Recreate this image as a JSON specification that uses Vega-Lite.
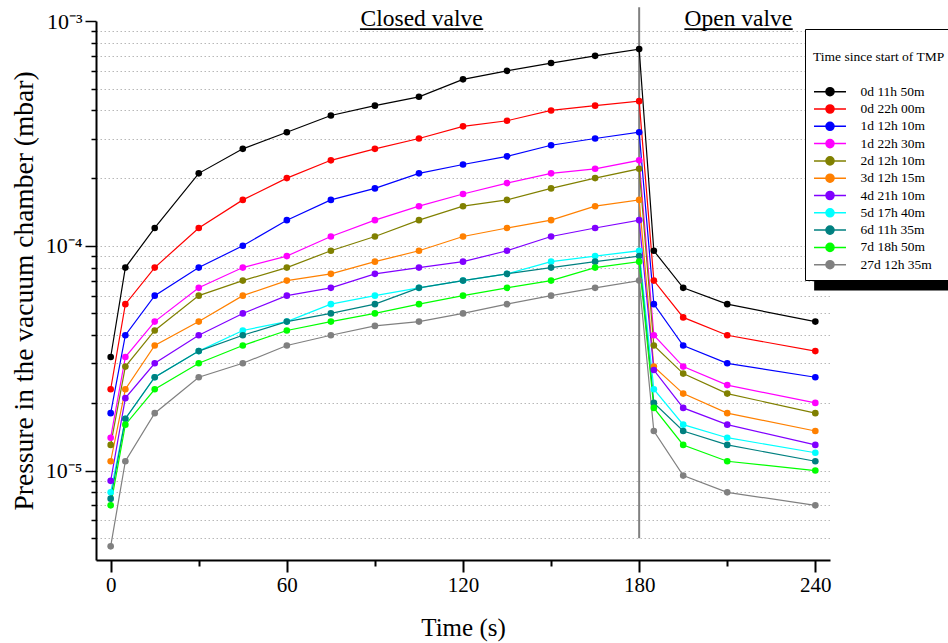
{
  "$schema": "https://vega.github.io/schema/vega-lite/v6.json",
  "width": 734,
  "height": 539,
  "autosize": {"type": "none"},
  "padding": {"left": 96, "top": 21, "right": 118, "bottom": 83},
  "background": "white",
  "config": {
    "view": {"stroke": null},
    "font": "Liberation Serif",
    "axis": {"labelFont": "Liberation Serif", "titleFont": "Liberation Serif", "labelColor": "black", "titleColor": "black", "titleFontWeight": "normal", "domainColor": "black", "tickColor": "black"}
  },
  "datasets": {
    "pressure": [
      {"series":"0d 11h 50m","t":0,"p":3.2e-5},{"series":"0d 11h 50m","t":5,"p":8.0e-5},{"series":"0d 11h 50m","t":15,"p":1.2e-4},{"series":"0d 11h 50m","t":30,"p":2.1e-4},{"series":"0d 11h 50m","t":45,"p":2.7e-4},{"series":"0d 11h 50m","t":60,"p":3.2e-4},{"series":"0d 11h 50m","t":75,"p":3.8e-4},{"series":"0d 11h 50m","t":90,"p":4.2e-4},{"series":"0d 11h 50m","t":105,"p":4.6e-4},{"series":"0d 11h 50m","t":120,"p":5.5e-4},{"series":"0d 11h 50m","t":135,"p":6.0e-4},{"series":"0d 11h 50m","t":150,"p":6.5e-4},{"series":"0d 11h 50m","t":165,"p":7.0e-4},{"series":"0d 11h 50m","t":180,"p":7.5e-4},{"series":"0d 11h 50m","t":185,"p":9.5e-5},{"series":"0d 11h 50m","t":195,"p":6.5e-5},{"series":"0d 11h 50m","t":210,"p":5.5e-5},{"series":"0d 11h 50m","t":240,"p":4.6e-5},
      {"series":"0d 22h 00m","t":0,"p":2.3e-5},{"series":"0d 22h 00m","t":5,"p":5.5e-5},{"series":"0d 22h 00m","t":15,"p":8.0e-5},{"series":"0d 22h 00m","t":30,"p":1.2e-4},{"series":"0d 22h 00m","t":45,"p":1.6e-4},{"series":"0d 22h 00m","t":60,"p":2.0e-4},{"series":"0d 22h 00m","t":75,"p":2.4e-4},{"series":"0d 22h 00m","t":90,"p":2.7e-4},{"series":"0d 22h 00m","t":105,"p":3.0e-4},{"series":"0d 22h 00m","t":120,"p":3.4e-4},{"series":"0d 22h 00m","t":135,"p":3.6e-4},{"series":"0d 22h 00m","t":150,"p":4.0e-4},{"series":"0d 22h 00m","t":165,"p":4.2e-4},{"series":"0d 22h 00m","t":180,"p":4.4e-4},{"series":"0d 22h 00m","t":185,"p":7.0e-5},{"series":"0d 22h 00m","t":195,"p":4.8e-5},{"series":"0d 22h 00m","t":210,"p":4.0e-5},{"series":"0d 22h 00m","t":240,"p":3.4e-5},
      {"series":"1d 12h 10m","t":0,"p":1.8e-5},{"series":"1d 12h 10m","t":5,"p":4.0e-5},{"series":"1d 12h 10m","t":15,"p":6.0e-5},{"series":"1d 12h 10m","t":30,"p":8.0e-5},{"series":"1d 12h 10m","t":45,"p":1.0e-4},{"series":"1d 12h 10m","t":60,"p":1.3e-4},{"series":"1d 12h 10m","t":75,"p":1.6e-4},{"series":"1d 12h 10m","t":90,"p":1.8e-4},{"series":"1d 12h 10m","t":105,"p":2.1e-4},{"series":"1d 12h 10m","t":120,"p":2.3e-4},{"series":"1d 12h 10m","t":135,"p":2.5e-4},{"series":"1d 12h 10m","t":150,"p":2.8e-4},{"series":"1d 12h 10m","t":165,"p":3.0e-4},{"series":"1d 12h 10m","t":180,"p":3.2e-4},{"series":"1d 12h 10m","t":185,"p":5.5e-5},{"series":"1d 12h 10m","t":195,"p":3.6e-5},{"series":"1d 12h 10m","t":210,"p":3.0e-5},{"series":"1d 12h 10m","t":240,"p":2.6e-5},
      {"series":"1d 22h 30m","t":0,"p":1.4e-5},{"series":"1d 22h 30m","t":5,"p":3.2e-5},{"series":"1d 22h 30m","t":15,"p":4.6e-5},{"series":"1d 22h 30m","t":30,"p":6.5e-5},{"series":"1d 22h 30m","t":45,"p":8.0e-5},{"series":"1d 22h 30m","t":60,"p":9.0e-5},{"series":"1d 22h 30m","t":75,"p":1.1e-4},{"series":"1d 22h 30m","t":90,"p":1.3e-4},{"series":"1d 22h 30m","t":105,"p":1.5e-4},{"series":"1d 22h 30m","t":120,"p":1.7e-4},{"series":"1d 22h 30m","t":135,"p":1.9e-4},{"series":"1d 22h 30m","t":150,"p":2.1e-4},{"series":"1d 22h 30m","t":165,"p":2.2e-4},{"series":"1d 22h 30m","t":180,"p":2.4e-4},{"series":"1d 22h 30m","t":185,"p":4.0e-5},{"series":"1d 22h 30m","t":195,"p":2.9e-5},{"series":"1d 22h 30m","t":210,"p":2.4e-5},{"series":"1d 22h 30m","t":240,"p":2.0e-5},
      {"series":"2d 12h 10m","t":0,"p":1.3e-5},{"series":"2d 12h 10m","t":5,"p":2.9e-5},{"series":"2d 12h 10m","t":15,"p":4.2e-5},{"series":"2d 12h 10m","t":30,"p":6.0e-5},{"series":"2d 12h 10m","t":45,"p":7.0e-5},{"series":"2d 12h 10m","t":60,"p":8.0e-5},{"series":"2d 12h 10m","t":75,"p":9.5e-5},{"series":"2d 12h 10m","t":90,"p":1.1e-4},{"series":"2d 12h 10m","t":105,"p":1.3e-4},{"series":"2d 12h 10m","t":120,"p":1.5e-4},{"series":"2d 12h 10m","t":135,"p":1.6e-4},{"series":"2d 12h 10m","t":150,"p":1.8e-4},{"series":"2d 12h 10m","t":165,"p":2.0e-4},{"series":"2d 12h 10m","t":180,"p":2.2e-4},{"series":"2d 12h 10m","t":185,"p":3.6e-5},{"series":"2d 12h 10m","t":195,"p":2.7e-5},{"series":"2d 12h 10m","t":210,"p":2.2e-5},{"series":"2d 12h 10m","t":240,"p":1.8e-5},
      {"series":"3d 12h 15m","t":0,"p":1.1e-5},{"series":"3d 12h 15m","t":5,"p":2.3e-5},{"series":"3d 12h 15m","t":15,"p":3.6e-5},{"series":"3d 12h 15m","t":30,"p":4.6e-5},{"series":"3d 12h 15m","t":45,"p":6.0e-5},{"series":"3d 12h 15m","t":60,"p":7.0e-5},{"series":"3d 12h 15m","t":75,"p":7.5e-5},{"series":"3d 12h 15m","t":90,"p":8.5e-5},{"series":"3d 12h 15m","t":105,"p":9.5e-5},{"series":"3d 12h 15m","t":120,"p":1.1e-4},{"series":"3d 12h 15m","t":135,"p":1.2e-4},{"series":"3d 12h 15m","t":150,"p":1.3e-4},{"series":"3d 12h 15m","t":165,"p":1.5e-4},{"series":"3d 12h 15m","t":180,"p":1.6e-4},{"series":"3d 12h 15m","t":185,"p":2.9e-5},{"series":"3d 12h 15m","t":195,"p":2.2e-5},{"series":"3d 12h 15m","t":210,"p":1.8e-5},{"series":"3d 12h 15m","t":240,"p":1.5e-5},
      {"series":"4d 21h 10m","t":0,"p":9.0e-6},{"series":"4d 21h 10m","t":5,"p":2.1e-5},{"series":"4d 21h 10m","t":15,"p":3.0e-5},{"series":"4d 21h 10m","t":30,"p":4.0e-5},{"series":"4d 21h 10m","t":45,"p":5.0e-5},{"series":"4d 21h 10m","t":60,"p":6.0e-5},{"series":"4d 21h 10m","t":75,"p":6.5e-5},{"series":"4d 21h 10m","t":90,"p":7.5e-5},{"series":"4d 21h 10m","t":105,"p":8.0e-5},{"series":"4d 21h 10m","t":120,"p":8.5e-5},{"series":"4d 21h 10m","t":135,"p":9.5e-5},{"series":"4d 21h 10m","t":150,"p":1.1e-4},{"series":"4d 21h 10m","t":165,"p":1.2e-4},{"series":"4d 21h 10m","t":180,"p":1.3e-4},{"series":"4d 21h 10m","t":185,"p":2.8e-5},{"series":"4d 21h 10m","t":195,"p":1.9e-5},{"series":"4d 21h 10m","t":210,"p":1.6e-5},{"series":"4d 21h 10m","t":240,"p":1.3e-5},
      {"series":"5d 17h 40m","t":0,"p":8.0e-6},{"series":"5d 17h 40m","t":5,"p":1.7e-5},{"series":"5d 17h 40m","t":15,"p":2.6e-5},{"series":"5d 17h 40m","t":30,"p":3.4e-5},{"series":"5d 17h 40m","t":45,"p":4.2e-5},{"series":"5d 17h 40m","t":60,"p":4.6e-5},{"series":"5d 17h 40m","t":75,"p":5.5e-5},{"series":"5d 17h 40m","t":90,"p":6.0e-5},{"series":"5d 17h 40m","t":105,"p":6.5e-5},{"series":"5d 17h 40m","t":120,"p":7.0e-5},{"series":"5d 17h 40m","t":135,"p":7.5e-5},{"series":"5d 17h 40m","t":150,"p":8.5e-5},{"series":"5d 17h 40m","t":165,"p":9.0e-5},{"series":"5d 17h 40m","t":180,"p":9.5e-5},{"series":"5d 17h 40m","t":185,"p":2.3e-5},{"series":"5d 17h 40m","t":195,"p":1.6e-5},{"series":"5d 17h 40m","t":210,"p":1.4e-5},{"series":"5d 17h 40m","t":240,"p":1.2e-5},
      {"series":"6d 11h 35m","t":0,"p":7.5e-6},{"series":"6d 11h 35m","t":5,"p":1.7e-5},{"series":"6d 11h 35m","t":15,"p":2.6e-5},{"series":"6d 11h 35m","t":30,"p":3.4e-5},{"series":"6d 11h 35m","t":45,"p":4.0e-5},{"series":"6d 11h 35m","t":60,"p":4.6e-5},{"series":"6d 11h 35m","t":75,"p":5.0e-5},{"series":"6d 11h 35m","t":90,"p":5.5e-5},{"series":"6d 11h 35m","t":105,"p":6.5e-5},{"series":"6d 11h 35m","t":120,"p":7.0e-5},{"series":"6d 11h 35m","t":135,"p":7.5e-5},{"series":"6d 11h 35m","t":150,"p":8.0e-5},{"series":"6d 11h 35m","t":165,"p":8.5e-5},{"series":"6d 11h 35m","t":180,"p":9.0e-5},{"series":"6d 11h 35m","t":185,"p":2.0e-5},{"series":"6d 11h 35m","t":195,"p":1.5e-5},{"series":"6d 11h 35m","t":210,"p":1.3e-5},{"series":"6d 11h 35m","t":240,"p":1.1e-5},
      {"series":"7d 18h 50m","t":0,"p":7.0e-6},{"series":"7d 18h 50m","t":5,"p":1.6e-5},{"series":"7d 18h 50m","t":15,"p":2.3e-5},{"series":"7d 18h 50m","t":30,"p":3.0e-5},{"series":"7d 18h 50m","t":45,"p":3.6e-5},{"series":"7d 18h 50m","t":60,"p":4.2e-5},{"series":"7d 18h 50m","t":75,"p":4.6e-5},{"series":"7d 18h 50m","t":90,"p":5.0e-5},{"series":"7d 18h 50m","t":105,"p":5.5e-5},{"series":"7d 18h 50m","t":120,"p":6.0e-5},{"series":"7d 18h 50m","t":135,"p":6.5e-5},{"series":"7d 18h 50m","t":150,"p":7.0e-5},{"series":"7d 18h 50m","t":165,"p":8.0e-5},{"series":"7d 18h 50m","t":180,"p":8.5e-5},{"series":"7d 18h 50m","t":185,"p":1.9e-5},{"series":"7d 18h 50m","t":195,"p":1.3e-5},{"series":"7d 18h 50m","t":210,"p":1.1e-5},{"series":"7d 18h 50m","t":240,"p":1.0e-5},
      {"series":"27d 12h 35m","t":0,"p":4.6e-6},{"series":"27d 12h 35m","t":5,"p":1.1e-5},{"series":"27d 12h 35m","t":15,"p":1.8e-5},{"series":"27d 12h 35m","t":30,"p":2.6e-5},{"series":"27d 12h 35m","t":45,"p":3.0e-5},{"series":"27d 12h 35m","t":60,"p":3.6e-5},{"series":"27d 12h 35m","t":75,"p":4.0e-5},{"series":"27d 12h 35m","t":90,"p":4.4e-5},{"series":"27d 12h 35m","t":105,"p":4.6e-5},{"series":"27d 12h 35m","t":120,"p":5.0e-5},{"series":"27d 12h 35m","t":135,"p":5.5e-5},{"series":"27d 12h 35m","t":150,"p":6.0e-5},{"series":"27d 12h 35m","t":165,"p":6.5e-5},{"series":"27d 12h 35m","t":180,"p":7.0e-5},{"series":"27d 12h 35m","t":185,"p":1.5e-5},{"series":"27d 12h 35m","t":195,"p":9.5e-6},{"series":"27d 12h 35m","t":210,"p":8.0e-6},{"series":"27d 12h 35m","t":240,"p":7.0e-6}
    ],
    "notes": [
      {"label": "Closed valve", "t": 105.9, "p": 9.52e-4},
      {"label": "Open valve", "t": 213.8, "p": 9.52e-4}
    ],
    "underlines": [
      {"t1": 84.9, "t2": 126.9, "p": 9.21e-4},
      {"t1": 195.4, "t2": 232.3, "p": 9.21e-4}
    ],
    "valve": [{"t": 180, "p1": 5e-6, "p2": 1.15e-3}],
    "shadow": [{"t1": 239.6, "t2": 300, "p1": 6.32e-5, "p2": 7.4e-5}]
  },
  "layer": [
    {
      "data": {"name": "shadow"},
      "mark": {"type": "rect", "color": "black"},
      "encoding": {
        "x": {
          "field": "t1", "type": "quantitative",
          "scale": {"domain": [-5, 245], "nice": false, "zero": false},
          "axis": {
            "title": "Time (s)", "titleFontSize": 25, "titlePadding": 20,
            "values": [0, 30, 60, 90, 120, 150, 180, 210, 240],
            "labelExpr": "datum.value % 60 === 0 ? datum.label : ''",
            "labelFontSize": 21, "labelPadding": 2, "labelFlush": false,
            "tickSize": {"condition": {"test": "datum.value % 60 === 0", "value": 12}, "value": 6},
            "tickWidth": 2, "domainWidth": 2, "grid": false
          }
        },
        "x2": {"field": "t2"},
        "y": {
          "field": "p1", "type": "quantitative",
          "scale": {"type": "log", "domain": [4e-6, 1e-3], "nice": false},
          "axis": {
            "title": "Pressure in the vacuum chamber (mbar)", "titleFontSize": 27.5, "titlePadding": 7,
            "values": [5e-6, 6e-6, 7e-6, 8e-6, 9e-6, 1e-5, 2e-5, 3e-5, 4e-5, 5e-5, 6e-5, 7e-5, 8e-5, 9e-5, 1e-4, 2e-4, 3e-4, 4e-4, 5e-4, 6e-4, 7e-4, 8e-4, 9e-4, 1e-3],
            "labelExpr": "abs(log(datum.value)/LN10 - round(log(datum.value)/LN10)) < 1e-6 ? '10⁻' + ['⁰','¹','²','³','⁴','⁵','⁶'][-round(log(datum.value)/LN10)] : ''",
            "labelFontSize": 22, "labelPadding": 3,
            "tickSize": {"condition": {"test": "abs(log(datum.value)/LN10 - round(log(datum.value)/LN10)) < 1e-6", "value": 11}, "value": 5},
            "tickWidth": 1.5, "domainWidth": 2,
            "grid": true, "gridDash": [1.5, 2.5], "gridColor": "#b8b8b8", "gridWidth": 1,
            "gridOpacity": {"condition": {"test": "datum.value > 9.5e-4", "value": 0}, "value": 1}
          }
        },
        "y2": {"field": "p2"}
      }
    },
    {
      "data": {"name": "valve"},
      "mark": {"type": "rule", "color": "#808080", "strokeWidth": 2},
      "encoding": {
        "x": {"field": "t", "type": "quantitative"},
        "y": {"field": "p1", "type": "quantitative"},
        "y2": {"field": "p2"}
      }
    },
    {
      "data": {"name": "pressure"},
      "mark": {"type": "line", "strokeWidth": 1.2},
      "encoding": {
        "x": {"field": "t", "type": "quantitative"},
        "y": {"field": "p", "type": "quantitative"},
        "color": {
          "field": "series", "type": "nominal",
          "scale": {
            "domain": ["0d 11h 50m", "0d 22h 00m", "1d 12h 10m", "1d 22h 30m", "2d 12h 10m", "3d 12h 15m", "4d 21h 10m", "5d 17h 40m", "6d 11h 35m", "7d 18h 50m", "27d 12h 35m"],
            "range": ["#000000", "#ff0000", "#0000ff", "#ff00ff", "#808000", "#ff8000", "#8000ff", "#00ffff", "#008080", "#00ff00", "#808080"]
          },
          "legend": {
            "orient": "none", "legendX": 709, "legendY": 8,
            "title": ["", "Time since start of TMP"],
            "titleFont": "Liberation Serif", "titleFontSize": 13.5, "titleFontWeight": "normal", "titleColor": "black", "titleLineHeight": 13, "titlePadding": 20.7,
            "labelFont": "Liberation Serif", "labelFontSize": 13.5, "labelColor": "black", "labelOffset": 23,
            "symbolType": "M-2.46,0H-0.62M0.62,0H2.46M-0.62,0A0.62,0.62,0,1,1,0.62,0A0.62,0.62,0,1,1,-0.62,0Z",
            "symbolSize": 169, "symbolStrokeWidth": 1.5, "symbolOffset": 9.5,
            "padding": 8, "fillColor": "white", "strokeColor": "black", "rowPadding": 2.3,
            "encode": {"symbols": {"update": {"fill": {"scale": "color", "field": "value"}, "stroke": {"scale": "color", "field": "value"}}}}
          }
        },
        "order": {"field": "t", "type": "quantitative"}
      }
    },
    {
      "data": {"name": "pressure"},
      "mark": {"type": "circle", "size": 44, "opacity": 1},
      "encoding": {
        "x": {"field": "t", "type": "quantitative"},
        "y": {"field": "p", "type": "quantitative"},
        "color": {"field": "series", "type": "nominal"}
      }
    },
    {
      "data": {"name": "underlines"},
      "mark": {"type": "rule", "color": "black", "strokeWidth": 1.8},
      "encoding": {
        "x": {"field": "t1", "type": "quantitative"},
        "x2": {"field": "t2"},
        "y": {"field": "p", "type": "quantitative"}
      }
    },
    {
      "data": {"name": "notes"},
      "mark": {"type": "text", "fontSize": 23.5, "font": "Liberation Serif", "align": "center", "baseline": "alphabetic", "color": "black"},
      "encoding": {
        "x": {"field": "t", "type": "quantitative"},
        "y": {"field": "p", "type": "quantitative"},
        "text": {"field": "label"}
      }
    }
  ]
}
